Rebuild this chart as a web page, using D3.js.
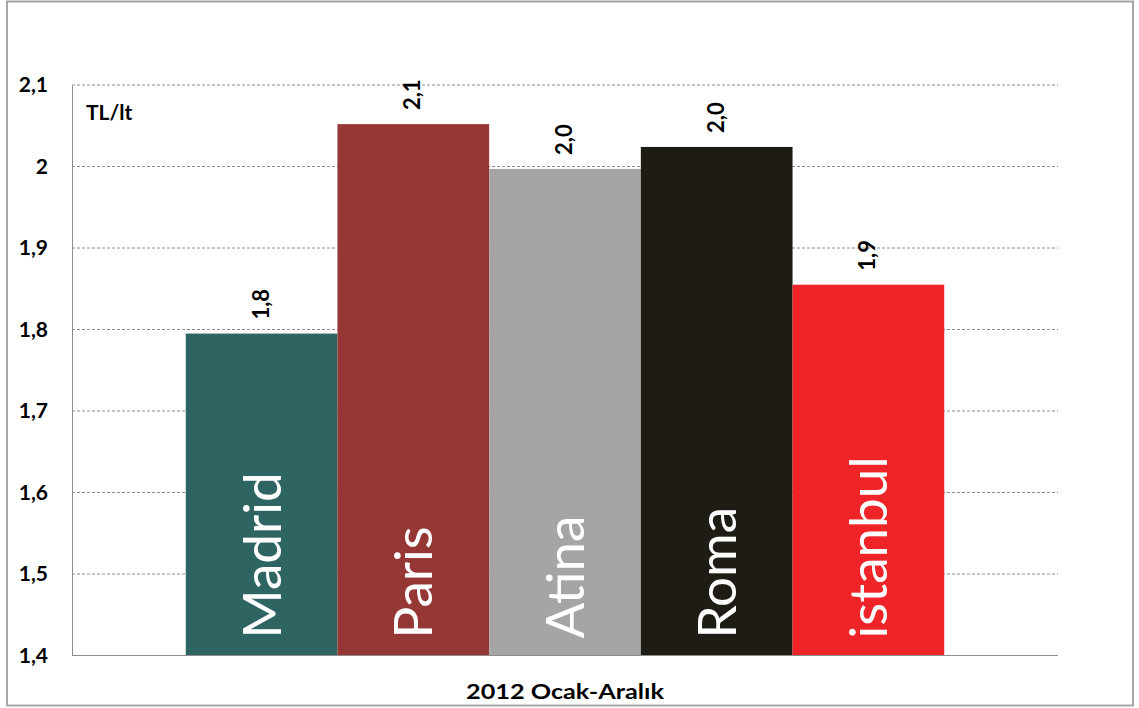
<!DOCTYPE html>
<html>
<head>
<meta charset="utf-8">
<script src="https://cdn.jsdelivr.net/npm/d3@7"></script>
<style>
  body { margin: 0; background: #fff; }
  text { font-family: Lato, "Open Sans", sans-serif; }
</style>
</head>
<body>
<svg id="chart" width="1139" height="708"></svg>
<script>
// Data
const category = "2012 Ocak-Aralık";
const cities = ["Madrid", "Paris", "Atina", "Roma", "istanbul"];
const prices = [1.795, 2.052, 1.997, 2.024, 1.855];
const priceLabels = ["1,8", "2,1", "2,0", "2,0", "1,9"];
const barColors = ["#2e6562", "#953735", "#a5a5a5", "#1f1b15", "#ee2428"];
const yTicks = [1.4, 1.5, 1.6, 1.7, 1.8, 1.9, 2.0, 2.1];
const yTickLabels = ["1,4", "1,5", "1,6", "1,7", "1,8", "1,9", "2", "2,1"];

const svg = d3.select("#chart");

// outer chart border
svg.append("rect")
  .attr("x", 7).attr("y", 1.5)
  .attr("width", 1126).attr("height", 704)
  .attr("fill", "none")
  .attr("stroke", "#a6a6a6")
  .attr("stroke-width", 2);

const plot = { left: 72, right: 1058, top: 85, bottom: 655.5 };

// Scales
const y = d3.scaleLinear().domain([1.4, 2.1]).range([plot.bottom, plot.top]);
const x0 = d3.scaleBand().domain([category])
  .range([plot.left, plot.right])
  .paddingInner(0).paddingOuter(0.15);
const x1 = d3.scaleBand().domain(cities).range([0, x0.bandwidth()]).padding(0);

// dashed gridlines
svg.append("g")
  .selectAll("line")
  .data(yTicks.slice(1))
  .enter()
  .append("line")
  .attr("x1", plot.left).attr("x2", plot.right)
  .attr("y1", d => y(d)).attr("y2", d => y(d))
  .attr("stroke", "#8c8c8c")
  .attr("stroke-dasharray", "3,2");

// y axis (no tick marks, just labels)
const yAxis = svg.append("g")
  .attr("transform", `translate(${plot.left},0)`)
  .call(d3.axisLeft(y).tickValues(yTicks).tickSize(0).tickPadding(24)
    .tickFormat((d, i) => yTickLabels[i]));
yAxis.select(".domain").attr("stroke", "#8c8c8c");
yAxis.selectAll("text")
  .style("font-family", "Lato, sans-serif")
  .style("font-size", "21px")
  .style("font-weight", "700")
  .attr("fill", "#000");

// unit label
svg.append("text")
  .attr("x", 86).attr("y", 120)
  .style("font-size", "21px")
  .style("font-weight", "700")
  .text("TL/lt");

// Bars
const bars = svg.append("g")
  .selectAll("g")
  .data(cities.map((c, i) => ({ city: c, value: prices[i], label: priceLabels[i], color: barColors[i] })))
  .enter()
  .append("g");

bars.append("rect")
  .attr("x", d => x0(category) + x1(d.city))
  .attr("y", d => y(d.value))
  .attr("width", x1.bandwidth())
  .attr("height", d => plot.bottom - y(d.value))
  .attr("fill", d => d.color);

// value labels above bars, rotated
bars.append("text")
  .attr("transform", d => `translate(${x0(category) + x1(d.city) + x1.bandwidth() / 2 + 7},${y(d.value) - 14}) rotate(-90)`)
  .style("font-size", "22px")
  .style("font-weight", "700")
  .attr("fill", "#000")
  .text(d => d.label);

// city names inside bars
bars.append("text")
  .attr("transform", d => `translate(${x0(category) + x1(d.city) + x1.bandwidth() / 2 + 19},${plot.bottom - 17}) rotate(-90)`)
  .style("font-size", "53px")
  .attr("fill", "#fff")
  .text(d => d.city);

// bottom axis line
svg.append("line")
  .attr("x1", plot.left).attr("x2", plot.right)
  .attr("y1", plot.bottom).attr("y2", plot.bottom)
  .attr("stroke", "#8c8c8c");

// category label (stretched a little, like the original)
svg.append("text")
  .attr("x", x0(category) + x0.bandwidth() / 2)
  .attr("y", 699)
  .attr("text-anchor", "middle")
  .attr("textLength", 198)
  .attr("lengthAdjust", "spacingAndGlyphs")
  .style("font-size", "21px")
  .style("font-weight", "700")
  .text(category);
</script>
</body>
</html>
